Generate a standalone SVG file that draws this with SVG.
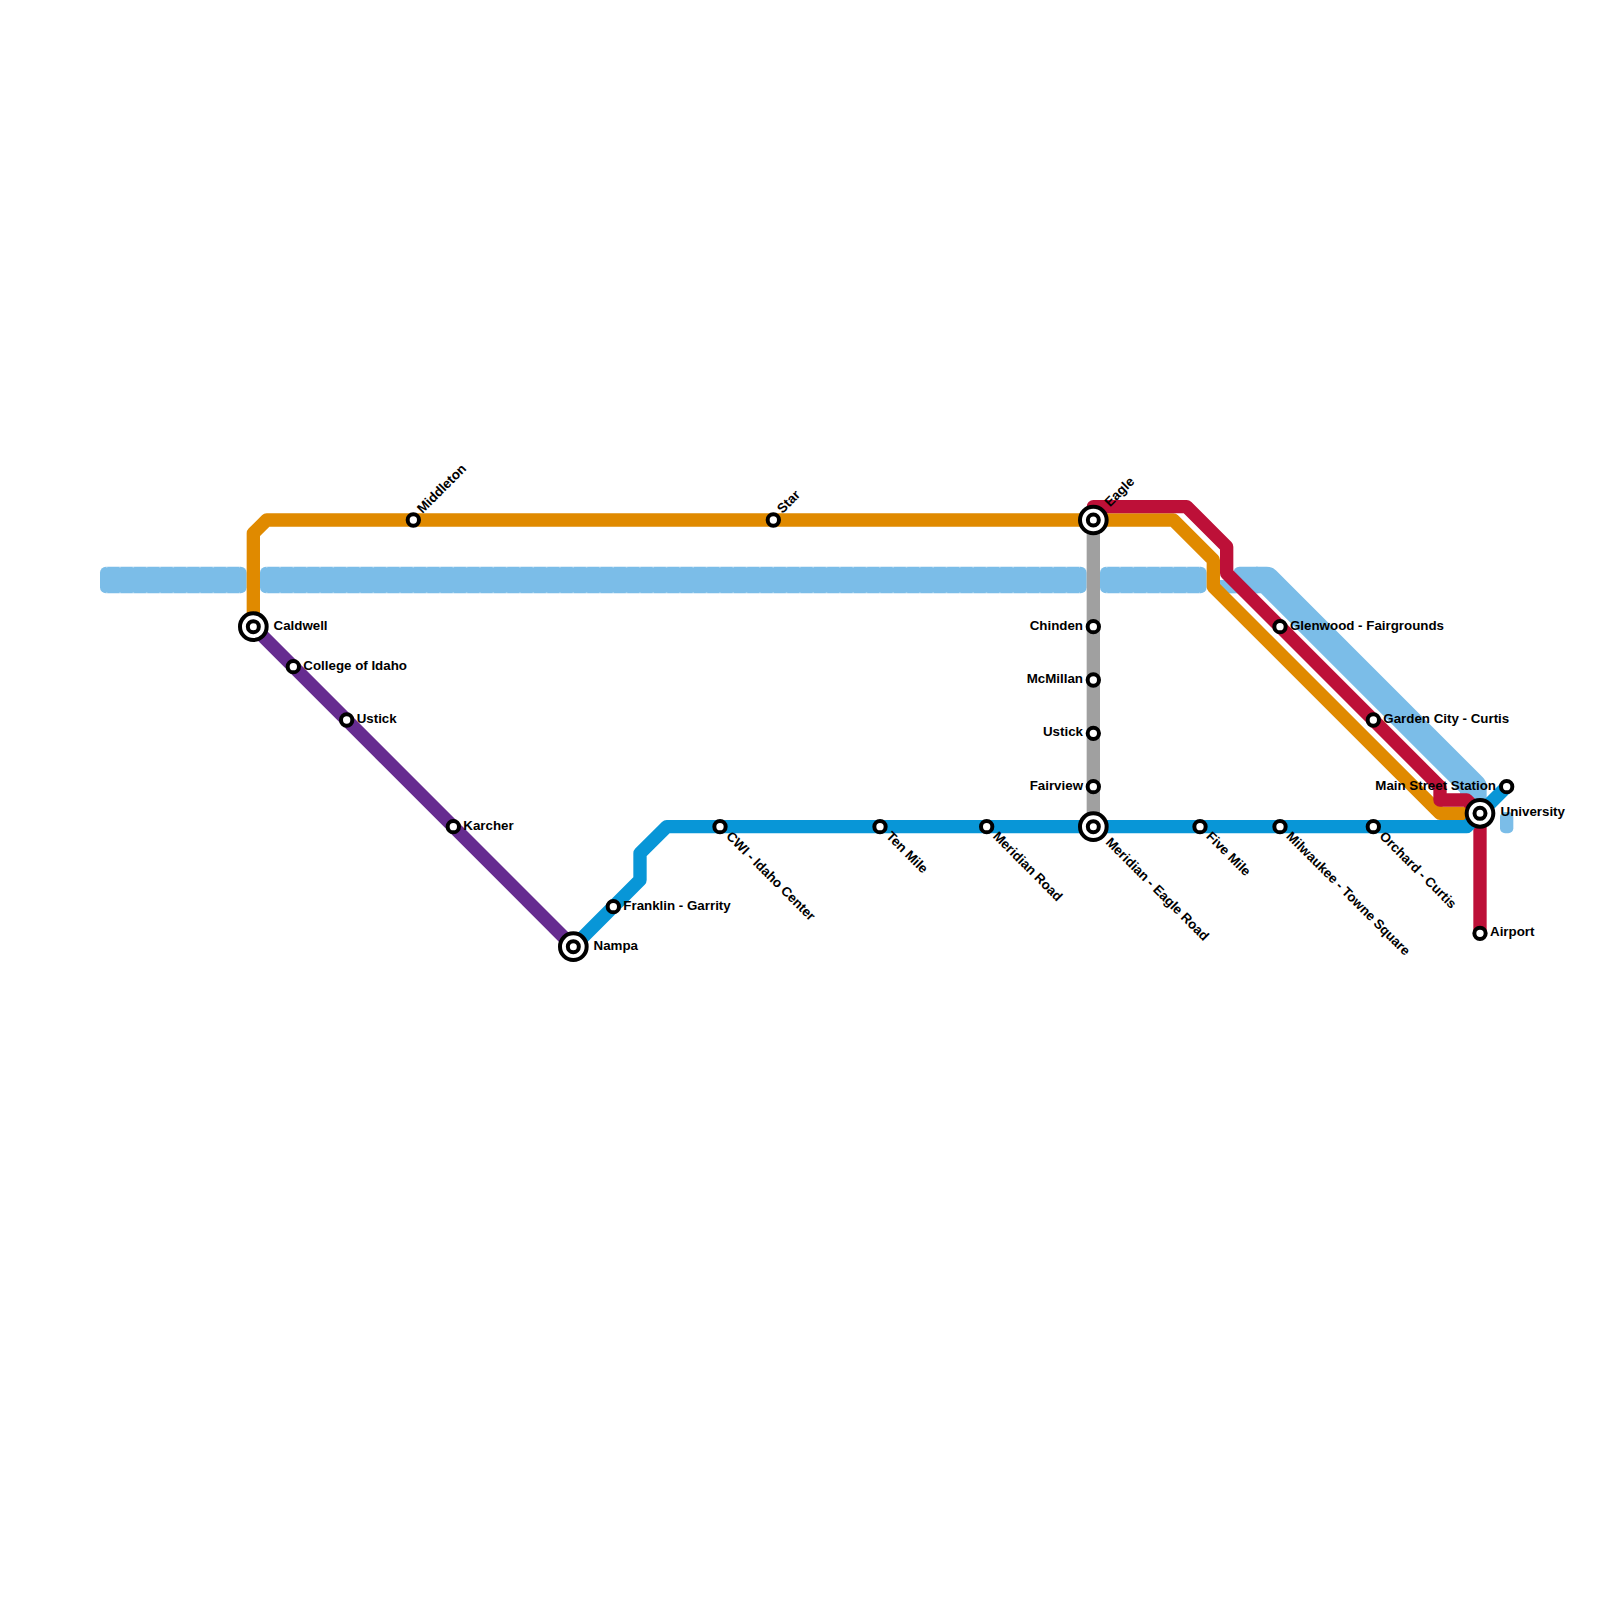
<svg xmlns="http://www.w3.org/2000/svg" width="1600" height="1600" viewBox="0 0 1600 1600">
<style>
.l{fill:none;stroke-width:13.33;stroke-linejoin:round;stroke-linecap:butt}
.r{stroke:#7bbde8;stroke-width:26.67;fill:none;stroke-linejoin:round}
.b{fill:#7bbde8}
.n{fill:none;stroke:#fff;stroke-opacity:.55;stroke-width:1;stroke-dasharray:1.6 11.73}
.sm{fill:#fff;stroke:#000;stroke-width:4}
.t{font:bold 13.33px "Liberation Sans",Arial,sans-serif;fill:#000}
.e{text-anchor:end}
</style>
<rect width="1600" height="1600" fill="#fff"/>
<g id="connectors">
<rect class="b" x="100" y="566.67" width="146.67" height="26.67" rx="6"/>
<rect class="b" x="260" y="566.67" width="826.67" height="26.67" rx="6"/>
<rect class="b" x="1100" y="566.67" width="106.67" height="26.67" rx="6"/>
<rect class="b" x="1220" y="580" width="24" height="13.33"/>
<rect class="b" x="1233.33" y="566.67" width="30" height="26.67" rx="6"/>
<path class="r" d="M1256 580H1266.67L1473.33 786.67V800"/>
<rect class="b" x="1500" y="812" width="13.33" height="21.33" rx="5"/>
<path class="n" d="M105.87 567H240M105.87 593H240M265.87 567H1080M265.87 593H1080M1105.87 567H1200M1105.87 593H1200"/>
<path class="l" stroke="#e08a00" d="M253.33 626.67V533.33L266.67 520H1173.33L1213.33 560V586.67L1440 813.33H1480"/>
<path class="l" stroke="#bd1038" d="M1093.33 520V506.67H1186.67L1226.67 546.67V573.33L1440 786.67V800H1466.67L1480 813.33V933.33"/>
<path class="l" stroke="#a0a0a0" d="M1093.33 520V826.67"/>
<path class="l" stroke="#662c90" d="M253.33 626.67L573.33 946.67"/>
<path class="l" stroke="#0896d7" d="M573.33 946.67L640 880V853.33L666.67 826.67H1466.67L1506.67 786.67"/>
</g>
<g id="n-caldwell"><circle class="sm" cx="253.33" cy="626.67" r="13.33"/><circle class="sm" cx="253.33" cy="626.67" r="5.5"/><text class="t" x="273.5" y="629.5">Caldwell</text></g>
<g id="n-college"><circle class="sm" cx="293.33" cy="666.67" r="5.67"/><text class="t" x="303.3" y="669.5">College of Idaho</text></g>
<g id="n-ustick-w"><circle class="sm" cx="346.67" cy="720" r="5.67"/><text class="t" x="356.7" y="722.8">Ustick</text></g>
<g id="n-karcher"><circle class="sm" cx="453.33" cy="826.67" r="5.67"/><text class="t" x="463.3" y="829.5">Karcher</text></g>
<g id="n-nampa"><circle class="sm" cx="573.33" cy="946.67" r="13.33"/><circle class="sm" cx="573.33" cy="946.67" r="5.5"/><text class="t" x="593.5" y="949.5">Nampa</text></g>
<g id="n-franklin"><circle class="sm" cx="613.33" cy="906.67" r="5.67"/><text class="t" x="623.3" y="909.5">Franklin - Garrity</text></g>
<g id="n-cwi"><circle class="sm" cx="720" cy="826.67" r="5.67"/><text class="t" transform="translate(725.5 837) rotate(45)">CWI - Idaho Center</text></g>
<g id="n-tenmile"><circle class="sm" cx="880" cy="826.67" r="5.67"/><text class="t" transform="translate(885.5 837) rotate(45)">Ten Mile</text></g>
<g id="n-meridianrd"><circle class="sm" cx="986.67" cy="826.67" r="5.67"/><text class="t" transform="translate(992.17 837) rotate(45)">Meridian Road</text></g>
<g id="n-meridian"><circle class="sm" cx="1093.33" cy="826.67" r="13.33"/><circle class="sm" cx="1093.33" cy="826.67" r="5.5"/><text class="t" transform="translate(1105 843) rotate(45)">Meridian - Eagle Road</text></g>
<g id="n-fivemile"><circle class="sm" cx="1200" cy="826.67" r="5.67"/><text class="t" transform="translate(1205.5 837) rotate(45)">Five Mile</text></g>
<g id="n-milwaukee"><circle class="sm" cx="1280" cy="826.67" r="5.67"/><text class="t" transform="translate(1285.5 837) rotate(45)">Milwaukee - Towne Square</text></g>
<g id="n-orchard"><circle class="sm" cx="1373.33" cy="826.67" r="5.67"/><text class="t" transform="translate(1378.83 837) rotate(45)">Orchard - Curtis</text></g>
<g id="n-glenwood"><circle class="sm" cx="1280" cy="626.67" r="5.67"/><text class="t" x="1290" y="629.5">Glenwood - Fairgrounds</text></g>
<g id="n-garden"><circle class="sm" cx="1373.33" cy="720" r="5.67"/><text class="t" x="1383.3" y="722.8">Garden City - Curtis</text></g>
<g id="n-main"><circle class="sm" cx="1506.67" cy="786.67" r="5.67"/><text class="t e" x="1496" y="789.5">Main Street Station</text></g>
<g id="n-university"><circle class="sm" cx="1480" cy="813.33" r="13.33"/><circle class="sm" cx="1480" cy="813.33" r="5.5"/><text class="t" x="1500.5" y="816">University</text></g>
<g id="n-airport"><circle class="sm" cx="1480" cy="933.33" r="5.67"/><text class="t" x="1490" y="936">Airport</text></g>
<g id="n-middleton"><circle class="sm" cx="413.33" cy="520" r="5.67"/><text class="t" transform="translate(422.5 514) rotate(-45)">Middleton</text></g>
<g id="n-star"><circle class="sm" cx="773.33" cy="520" r="5.67"/><text class="t" transform="translate(782.5 514) rotate(-45)">Star</text></g>
<g id="n-eagle"><circle class="sm" cx="1093.33" cy="520" r="13.33"/><circle class="sm" cx="1093.33" cy="520" r="5.5"/><text class="t" transform="translate(1110 507.5) rotate(-45)">Eagle</text></g>
<g id="n-chinden"><circle class="sm" cx="1093.33" cy="626.67" r="5.67"/><text class="t e" x="1083" y="629.5">Chinden</text></g>
<g id="n-mcmillan"><circle class="sm" cx="1093.33" cy="680" r="5.67"/><text class="t e" x="1083" y="682.8">McMillan</text></g>
<g id="n-ustick-e"><circle class="sm" cx="1093.33" cy="733.33" r="5.67"/><text class="t e" x="1083" y="736.2">Ustick</text></g>
<g id="n-fairview"><circle class="sm" cx="1093.33" cy="786.67" r="5.67"/><text class="t e" x="1083" y="789.5">Fairview</text></g>
</svg>
